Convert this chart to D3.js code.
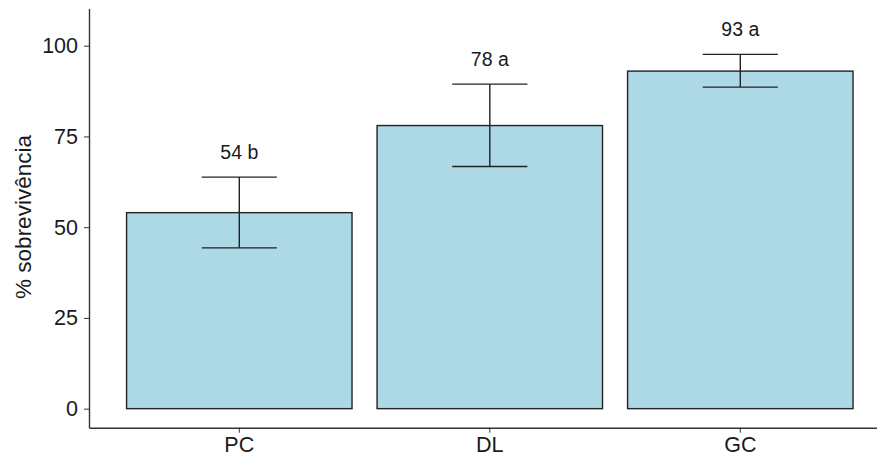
<!DOCTYPE html>
<html lang="pt">
<head>
<meta charset="utf-8">
<title>% sobrevivência</title>
<script src="https://d3js.org/d3.v7.min.js"></script>
<style>
  body { margin: 0; background: #fff; }
  svg text { font-family: "Liberation Sans", Arial, sans-serif; }
  .axis path, .axis line { stroke: #333; }
</style>
</head>
<body>
<svg width="877" height="463"></svg>
<script>
// dados
var tratamentos = ['PC', 'DL', 'GC'];
var media = [54, 78, 93];
var inferior = [44.3, 66.7, 88.6];
var superior = [63.8, 89.4, 97.6];
var letras = ['54 b', '78 a', '93 a'];
var yTicks = [0, 25, 50, 75, 100];

var svg = d3.select('svg');

var x = d3.scaleBand()
  .domain(tratamentos)
  .range([89, 890.6])
  .paddingInner(0.1)
  .paddingOuter(0.15);

var y = d3.scaleLinear()
  .domain([-5.25, 110.25])
  .range([427.7, 8.5]);

var step = x.step();

// barras
svg.append('g')
  .selectAll('rect')
  .data(tratamentos)
  .enter()
  .append('rect')
  .attr('x', function(d) { return x(d); })
  .attr('width', x.bandwidth())
  .attr('y', function(d, i) { return y(media[i]); })
  .attr('height', function(d, i) { return y(0) - y(media[i]); })
  .attr('fill', '#ADD8E6')
  .attr('stroke', '#222')
  .attr('stroke-width', 1.4);

// barras de erro
var eb = svg.append('g')
  .attr('stroke', '#222')
  .attr('stroke-width', 1.4)
  .attr('fill', 'none');

tratamentos.forEach(function(d, i) {
  var cx = x(d) + x.bandwidth() / 2;
  var hw = step * 0.15;
  eb.append('line')
    .attr('x1', cx).attr('x2', cx)
    .attr('y1', y(inferior[i])).attr('y2', y(superior[i]));
  eb.append('line')
    .attr('x1', cx - hw).attr('x2', cx + hw)
    .attr('y1', y(superior[i])).attr('y2', y(superior[i]));
  eb.append('line')
    .attr('x1', cx - hw).attr('x2', cx + hw)
    .attr('y1', y(inferior[i])).attr('y2', y(inferior[i]));
});

// letras
svg.append('g')
  .selectAll('text')
  .data(tratamentos)
  .enter()
  .append('text')
  .attr('x', function(d) { return x(d) + x.bandwidth() / 2; })
  .attr('y', function(d, i) { return y(superior[i] + 7); })
  .attr('dy', '0.36em')
  .attr('text-anchor', 'middle')
  .attr('font-size', 19.5)
  .attr('fill', '#1a1a1a')
  .text(function(d, i) { return letras[i]; });

// eixos
var yAxis = svg.append('g')
  .attr('class', 'axis')
  .attr('transform', 'translate(89,0)')
  .call(d3.axisLeft(y).tickValues(yTicks).tickSize(5).tickPadding(6).tickSizeOuter(0));
yAxis.select('.domain').attr('stroke-width', 1.4);
yAxis.selectAll('text').attr('font-size', 21.5).attr('fill', '#1a1a1a');

var xAxis = svg.append('g')
  .attr('class', 'axis')
  .attr('transform', 'translate(0,427.7)')
  .call(d3.axisBottom(x).tickSize(5).tickPadding(4).tickSizeOuter(0));
xAxis.select('.domain').attr('stroke-width', 1.4);
xAxis.selectAll('text').attr('font-size', 21.5).attr('fill', '#1a1a1a');

svg.append('text')
  .attr('transform', 'translate(23,217) rotate(-90)')
  .attr('text-anchor', 'middle')
  .attr('dy', '0.36em')
  .attr('font-size', 22.5)
  .attr('fill', '#1a1a1a')
  .text('% sobrevivência');
</script>
</body>
</html>
